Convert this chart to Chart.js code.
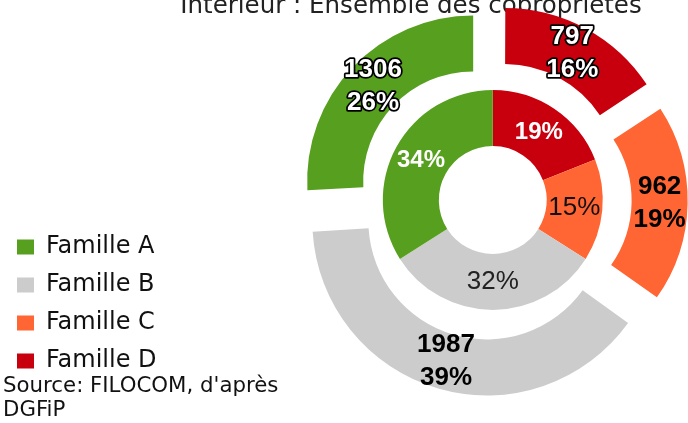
<!DOCTYPE html>
<html>
<head>
<meta charset="utf-8">
<script src="https://cdn.jsdelivr.net/npm/chart.js@4"></script>
<style>
  body { margin: 0; background: #fff; }
  #wrap { position: relative; width: 688px; height: 423px; overflow: hidden; }
  #chart { position: absolute; left: 0; top: -9px; }
</style>
</head>
<body>
<div id="wrap"><canvas id="chart" width="820" height="432"></canvas></div>
<script>
const categories = ['Famille A', 'Famille B', 'Famille C', 'Famille D'];
const colors = ['#57A01F', '#CCCCCC', '#FF6633', '#C8000D'];
const logements = [1306, 1987, 962, 797];     // outer ring
const partInterieur = [34, 32, 15, 19];       // inner ring, %
const titleText = 'Intérieur : Ensemble des copropriétés';
const sourceText = ["Source: FILOCOM, d'après", 'DGFiP'];

// look, per category (A, B, C, D)
const outerOffset = [108, 88, 108, 100];   // explode distance (chart.js offset units)
const outerText = ['#fff', '#000', '#000', '#fff'];
const outerHalo = [true, false, false, true];
const innerText = ['#fff', '#222', '#111', '#fff'];
const innerBold = [true, false, false, true];

// chart goes clockwise D, C, B, A from the top
const rev = (a) => a.slice().reverse();
const total = logements.reduce((s, v) => s + v, 0);

const ringLabels = {
  id: 'ringLabels',
  afterDatasetsDraw(chart) {
    const ctx = chart.ctx;
    chart.data.datasets.forEach((ds, di) => {
      const meta = chart.getDatasetMeta(di);
      meta.data.forEach((arc, j) => {
        const i = categories.length - 1 - j; // back to A..D index
        const p = arc.getProps(['x', 'y', 'startAngle', 'endAngle', 'innerRadius', 'outerRadius', 'circumference']);
        const mid = (p.startAngle + p.endAngle) / 2;
        // same shift chart.js applies when drawing an offset arc
        const t = (arc.options.offset || 0) / 4;
        const grow = t * (1 - Math.sin(Math.min(Math.PI, p.circumference)));
        const r = (p.innerRadius + p.outerRadius) / 2 + t + grow;
        const x = p.x + Math.cos(mid) * r;
        const y = p.y + Math.sin(mid) * r;
        ctx.save();
        ctx.textAlign = 'center';
        ctx.textBaseline = 'middle';
        if (ds.ring === 'outer') {
          const v = ds.data[j];
          const lines = [String(v), Math.round(v / total * 100) + '%'];
          ctx.font = 'bold 26px "Liberation Sans", Arial, sans-serif';
          ctx.lineJoin = 'round';
          lines.forEach((s, k) => {
            const ly = y + (k - 0.5) * 33;
            if (outerHalo[i]) {
              ctx.lineWidth = 3.5;
              ctx.strokeStyle = '#000';
              ctx.strokeText(s, x, ly);
            }
            ctx.fillStyle = outerText[i];
            ctx.fillText(s, x, ly);
          });
        } else {
          ctx.font = (innerBold[i] ? 'bold 24px' : '26px') + ' "Liberation Sans", Arial, sans-serif';
          ctx.fillStyle = innerText[i];
          ctx.fillText(ds.data[j] + '%', x, y);
        }
        ctx.restore();
      });
    });
  }
};

new Chart(document.getElementById('chart'), {
  type: 'doughnut',
  data: {
    labels: rev(categories),
    datasets: [
      {
        ring: 'outer',
        data: rev(logements),
        backgroundColor: rev(colors),
        borderWidth: 0,
        offset: rev(outerOffset)
      },
      {
        ring: 'inner',
        data: rev(partInterieur),
        backgroundColor: rev(colors),
        borderWidth: 0,
        offset: 0
      }
    ]
  },
  options: {
    responsive: false,
    animation: false,
    events: [],
    radius: 166,
    cutout: '32.5%',
    layout: { padding: { left: 3, right: 1, top: 0, bottom: 0 } },
    plugins: {
      title: {
        display: true,
        text: titleText,
        color: '#222',
        font: { family: '"DejaVu Sans", sans-serif', size: 24.5, weight: 'normal', lineHeight: 24 / 24.5 },
        padding: { top: 4, bottom: -6 }
      },
      subtitle: {
        display: true,
        position: 'bottom',
        align: 'start',
        text: sourceText,
        color: '#111',
        font: { family: '"DejaVu Sans", sans-serif', size: 21.3, lineHeight: 24 / 21.3 },
        padding: { top: -13, bottom: 1 }
      },
      legend: {
        position: 'left',
        align: 'end',
        fullSize: false,
        reverse: true,
        labels: {
          color: '#111',
          font: { family: '"DejaVu Sans", sans-serif', size: 24 },
          boxWidth: 17,
          boxHeight: 15,
          padding: 14
        }
      },
      tooltip: { enabled: false }
    }
  },
  plugins: [ringLabels]
});
</script>
</body>
</html>
